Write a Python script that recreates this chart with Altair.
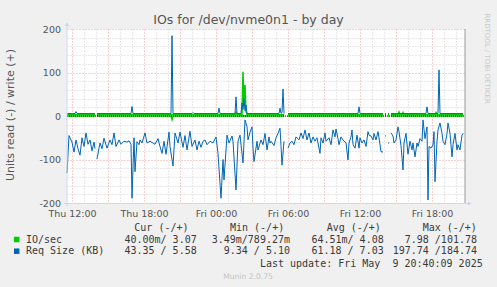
import altair as alt
import pandas as pd

# ---------------- data (time = minutes after the window start, Thu 11:35) ----------------
START_H = 11 + 35 / 60.0      # window start, hours after Thu 00:00
END_H = 44.75                 # window end (Fri 20:45)

# Req Size (KB), read (drawn negative)
rs_read_min = [0, 10, 25, 35, 45, 55, 65, 75, 85, 95, 105, 115, 125, 135, 140, 145,
               150, 165, 175, 185, 200, 215, 225, 235, 245, 260, 270, 285, 300, 310, 320, 325, 335, 340,
               350, 360, 365, 375, 390, 400, 415, 430, 440, 455, 465, 475, 485, 495, 510, 515, 530, 540,
               555, 565, 580, 590, 600, 615, 625, 640, 650, 660, 670, 680, 690, 700, 715, 730, 745, 755,
               770, 780, 785, 800, 810, 825, 830, 845, 855, 865, 880, 890, 900, 905, 915, 925, 930, 935,
               950, 955, 970, 980, 990, 1000, 1010, 1015, 1020, 1035, 1045, 1055, 1065, 1070, 1075, 1085, 1095,
               1105, 1115, 1125, 1135, 1145, 1160, 1170, 1180, 1190, 1200, 1210, 1220, 1230, 1240, 1250,
               1265, 1270, 1280, 1290, 1295, 1310, 1320, 1330, 1340, 1345, 1355, 1360, 1370, 1380, 1395,
               1405, 1410, 1420, 1425, 1430, 1440, 1450, 1460, 1465, 1475, 1485, 1495, 1505, 1510, 1520,
               1530, 1535, 1545, 1555, 1560, 1570, 1580, 1585,
               1590, 1595, 1600, 1605, 1610, 1615,
               1620, 1630, 1635, 1645, 1655, 1660, 1670, 1680, 1685, 1695, 1705, 1715, 1725, 1730, 1740,
               1750, 1755, 1765, 1775, 1780, 1790, 1800, 1805, 1810, 1820, 1830, 1835, 1840, 1850, 1855,
               1865, 1875, 1880, 1890, 1900, 1905, 1915, 1925, 1930, 1940, 1950, 1955, 1965, 1975, 1980]
rs_read_val = [-131, -45, -60, -83, -55, -75, -90, -50, -70, -39, -65, -55, -80, -60, -75, None,
               -99, -62, -75, -51, -74, -55, -66, -39, -70, -55, -65, -58, -60, -57, -65, -189, -50, -128,
               -59, -66, -55, -62, -39, -62, -58, -62, -65, -52, -70, -86, -58, -88, -37, -70, -115, -39,
               -62, -37, -72, -45, -78, -35, -70, -55, -78, -58, -72, -58, -55, -66, -58, -62, -48, -86,
               -189, -100, -147, -44, -62, -46, -58, -170, -58, -44, -108, -9, -25, -55, -37, -25, -74, -105,
               -58, -78, -55, -66, -40, -78, -48, -62, -58, -68, -50, -40, -28, -68, -113, -58, None,
               -74, -62, -58, -66, -48, -55, -39, -52, -32, -55, -39, -62, -48, -58, -50,
               -86, -50, -62, -39, -58, -50, -66, -32, -48, -30, -52, -66, -48, -55, -62,
               -101, -62, -48, -32, -66, -74, -44, -74, -50, -62, -55, -70, -36, -44, -46,
               -55, -40, -55, -36, -50, -82, -83, None,
               -46, -46, None, -62, -62, None,
               -39, -46, -62, -55, -25, -36, -68, -124, -62, -40, -88, -58, -78, -62, -94,
               -62, -70, -52, -58, -9, -52, -25, -193, -70, -74, -66, -36, -151, -58, -32,
               -16, -40, -58, -66, -40, -16, -40, -94, -66, -40, -78, -66, -78, -44, -40]

# Req Size (KB), write (drawn positive)
rs_write_min = [0, 40, 45, 50, 140, 145, 150, 320, 325, 330, 520, 525, 530, 625, 630, 635, 755, 760, 765, 840,
                845, 850, 870, 875, 880, 885, 890, 895, 900, 1060, 1065, 1070, 1075, 1080, 1085, 1095, 1105,
                1455, 1460, 1465, 1580, 1585, 1590, 1595, 1600, 1605, 1610, 1615, 1620, 1795, 1800, 1805,
                1855, 1860, 1865, 1980]
rs_write_val = [5.6, 5.5, 10, 5.6, 5.5, None, 5.6, 5.5, 22, 5.6, 5.5, 184.7, 5.6, 5.5, 8, 5.6, 5.5, 18, 5.6, 5.5,
                44, 5.6, 6, 30, 15, 40, 12, 25, 5.6, 5.5, 18, 6, 8, 62, 5.6, None, 5.6,
                5.5, 21, 5.6, 5.5, None, 5.6, 5.6, None, 5.6, 5.6, None, 5.6, 5.5, 21, 5.6,
                5.5, 106, 5.6, 5.6]

# IO/sec, write (positive)
io_write_min = [0, 140, 145, 150, 840, 845, 850, 875, 880, 885, 890, 895, 900, 1085, 1095, 1105, 1580, 1585,
                1590, 1595, 1600, 1605, 1610, 1615, 1620, 1655, 1660, 1665, 1675, 1680, 1685, 1840, 1845, 1850, 1980]
io_write_val = [3.1, 3.0, None, 3.1, 3.0, 9, 3.1, 3.0, 101.8, 22, 71, 12, 3.1, 3.0, None, 3.1, 3.0, None,
                3.0, 3.0, None, 3.0, 3.0, None, 3.1, 3.0, 9, 3.1, 3.0, 8, 3.1, 3.0, 8, 3.1, 3.07]

# IO/sec, read (negative)
io_read_min = [0, 140, 145, 150, 520, 525, 530, 1085, 1095, 1105, 1580, 1585, 1590, 1595, 1600, 1605, 1610,
               1615, 1620, 1980]
io_read_val = [-0.06, -0.06, None, -0.06, -0.06, -7.98, -0.06, -0.06, None, -0.06, -0.06, None, -0.06, -0.06,
               None, -0.06, -0.06, None, -0.06, -0.04]

# legend table texts
legend_names = ["IO/sec", "Req Size (KB)"]
legend_headers = ["Cur (-/+)", "Min (-/+)", "Avg (-/+)", "Max (-/+)"]
cur_vals = ["40.00m/ 3.07", "43.35 / 5.58"]
min_vals = ["3.49m/789.27m", "9.34 / 5.10"]
avg_vals = ["64.51m/ 4.08", "61.18 / 7.03"]
max_vals = ["7.98 /101.78", "197.74 /184.74"]
last_update = "Last update: Fri May\u00a0 9 20:40:09 2025"
title_text = "IOs for /dev/nvme0n1 - by day"
y_title = "Units read (-) / write (+)"
watermark = "RRDTOOL / TOBI OETIKER"
footer = "Munin 2.0.75"

assert len(rs_read_min) == len(rs_read_val)
assert len(rs_write_min) == len(rs_write_val)
assert len(io_write_min) == len(io_write_val)
assert len(io_read_min) == len(io_read_val)


def frame(mins, vals):
    rows, seg = [], 0
    for m, v in zip(mins, vals):
        if v is None:
            seg += 1
            continue
        rows.append({"hour": START_H + m / 60.0, "value": v, "seg": seg})
    return pd.DataFrame(rows)


W, H = 398, 174
GREEN = "#00cc00"
BLUE = "#0066b3"
AXIS = "#cfd6f8"
FONT = "#555555"
LEG = "#3a3a3a"
MINOR = "#d2d2d2"
MAJOR = "#f2a2a2"

xs = alt.Scale(domain=[START_H, END_H], nice=False, zero=False)
ys = alt.Scale(domain=[-200, 200], nice=False, zero=False)

x_axis = alt.Axis(
    values=list(range(12, 45)),
    labelExpr="datum.value % 6 == 0 ? (datum.value < 24 ? 'Thu ' : 'Fri ') + "
              "(datum.value % 24 < 10 ? '0' : '') + (datum.value % 24) + ':00' : ''",
    grid=True,
    gridColor={"condition": {"test": "datum.value % 3 == 0", "value": MAJOR}, "value": MINOR},
    gridDash=[1, 2], gridWidth=1,
    ticks=False, domain=False, title=None,
    labelFont="DejaVu Sans", labelFontSize=9.5, labelColor=FONT,
    labelPadding=5, labelFlush=False, labelOverlap=False,
)
y_axis = alt.Axis(
    values=list(range(-200, 201, 20)),
    labelExpr="datum.value % 100 == 0 ? '' + datum.value : ''",
    grid=True,
    gridColor={"condition": {"test": "datum.value % 100 == 0", "value": MAJOR}, "value": MINOR},
    gridDash=[1, 2], gridWidth=1,
    ticks=False, domain=False, title=None,
    labelFont="DejaVu Sans", labelFontSize=9.5, labelColor=FONT,
    labelPadding=6.5, labelOverlap=False,
)


def line(df, color, width):
    return alt.Chart(df).mark_line(color=color, strokeWidth=width).encode(
        x=alt.X("hour:Q", scale=xs, axis=x_axis),
        y=alt.Y("value:Q", scale=ys, axis=y_axis),
        detail="seg:N",
    )


one = pd.DataFrame({"k": [0]})


def txt(s, x, y, size=10, font="DejaVu Sans Mono", color=LEG, align="left", baseline="middle", angle=None):
    kw = dict(text=s, font=font, fontSize=size, color=color, align=align, baseline=baseline)
    if angle is not None:
        kw["angle"] = angle
    return alt.Chart(one).mark_text(**kw).encode(x=alt.value(x), y=alt.value(y))


layers = [
    line(frame(io_read_min, io_read_val), GREEN, 1.5),
    line(frame(io_write_min, io_write_val), GREEN, 1.5),
    line(frame(rs_read_min, rs_read_val), BLUE, 1),
    line(frame(rs_write_min, rs_write_val), BLUE, 1),
    alt.Chart(one).mark_rule(color="black", strokeDash=[1, 1], strokeWidth=1).encode(
        x=alt.value(0), x2=alt.value(W), y=alt.Y(datum=0, scale=ys, axis=y_axis)),
    # axis lines, frame and arrows
    alt.Chart(one).mark_rule(color=AXIS).encode(x=alt.value(-3), x2=alt.value(402), y=alt.value(H + 0.5)),
    alt.Chart(one).mark_rule(color=AXIS).encode(x=alt.value(0), y=alt.value(-4), y2=alt.value(H + 3)),
    alt.Chart(one).mark_rule(color="#9a9a9a").encode(x=alt.value(W), y=alt.value(0), y2=alt.value(H)),
    alt.Chart(one).mark_point(shape="triangle-up", filled=True, size=22, color=AXIS, opacity=1).encode(
        x=alt.value(0), y=alt.value(-5)),
    alt.Chart(one).mark_point(shape="triangle-right", filled=True, size=22, color=AXIS, opacity=1).encode(
        x=alt.value(403), y=alt.value(H + 0.5)),
    # titles
    txt(title_text, 181.5, -5, size=12.5, font="DejaVu Sans", color=FONT, align="center", baseline="alphabetic"),
    txt(y_title, -56, 86, size=11, font="DejaVu Sans", color=FONT, align="center", angle=270),
    txt(watermark, 420, 29.5, size=7, font="DejaVu Sans", color="#c8c8c8", align="center", angle=90),
    txt(footer, 181, 247.7, size=7.6, font="DejaVu Sans", color="#c4c4c4", align="center"),
]

# legend header
for h, xstart in zip(legend_headers, [134.3, 230, 326.7, 422.7]):
    layers.append(txt(h, xstart - 67, 199))

rows_y = [210.5, 222.2]
for i, (name, color) in enumerate(zip(legend_names, [GREEN, BLUE])):
    y = rows_y[i]
    layers.append(alt.Chart(one).mark_point(shape="square", filled=True, size=30, color=color, opacity=1).encode(
        x=alt.value(-50.3), y=alt.value(y)))
    layers.append(txt(name, -41, y))

# value columns, right-aligned to the column edges of the original
for col, right in zip([cur_vals, min_vals, avg_vals, max_vals], [196.7, 290, 383.7, 477]):
    for i, s in enumerate(col):
        layers.append(txt(s, right - 67, rows_y[i], align="right"))

layers.append(txt(last_update, 482.7 - 67, 234.8, align="right"))

chart = alt.layer(*layers).properties(
    width=W, height=H,
    padding={"left": 67, "top": 29, "right": 32, "bottom": 84},
    autosize=alt.AutoSizeParams(type="none"),
    background="#f0f0f0",
).configure_view(stroke=None, fill="white")

chart.save("out.html", embed_options={"renderer": "svg", "actions": False})
